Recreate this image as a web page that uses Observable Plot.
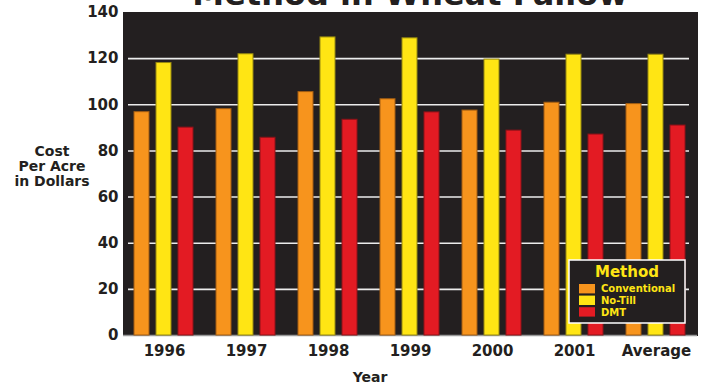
<!DOCTYPE html>
<html>
<head>
<meta charset="utf-8">
<script src="https://cdn.jsdelivr.net/npm/d3@7"></script>
<script src="https://cdn.jsdelivr.net/npm/@observablehq/plot@0.6"></script>
<style>
  html, body { margin: 0; padding: 0; background: #fff; overflow: hidden; }
  #chart { position: relative; width: 704px; height: 387px; }
</style>
</head>
<body>
<div id="chart"></div>
<script>
// Cost per acre (dollars) by tillage method, wheat-fallow
const years = ["1996", "1997", "1998", "1999", "2000", "2001", "Average"];
const methods = ["Conventional", "No-Till", "DMT"];
const conventional = [96.8, 98.1, 105.5, 102.4, 97.5, 100.9, 100.3];
const noTill = [118.1, 121.9, 129.2, 128.8, 119.6, 121.7, 121.7];
const dmt = [90.1, 85.7, 93.5, 96.7, 88.8, 87.1, 91.0];
const yTicks = [0, 20, 40, 60, 80, 100, 120, 140];
const gridTicks = [20, 40, 60, 80, 100, 120];

const methodColors = ["#F7941D", "#FFE514", "#E31B23"];
const methodEdges = ["#a35d12", "#978a10", "#8e1218"];
const bg = "#231F20";
const ink = "#231F20";

const series = [conventional, noTill, dmt];
const rows = years.flatMap((year, i) =>
  methods.map((method, m) => ({year, method, value: series[m][i]}))
);

// horizontal grid rows, one set per year panel
const gridRows = years.flatMap(year => gridTicks.map(value => ({year, value})));
const first = years[0], last = years[years.length - 1];
const gridStyle = {fx: "year", y: "value", stroke: "#ececec", strokeWidth: 1.6};

const plot = Plot.plot({
  width: 704,
  height: 387,
  marginLeft: 121,
  marginRight: 6,
  marginTop: 12,
  marginBottom: 52,
  style: {
    fontFamily: "'DejaVu Sans', sans-serif",
    fontWeight: "bold",
    fontSize: "15px",
    color: ink,
    background: "#fff"
  },
  fx: {domain: years, padding: 0, axis: "bottom", label: null, tickSize: 0, tickPadding: 10},
  x: {domain: methods, axis: null, paddingInner: 0.3, paddingOuter: 0.45},
  y: {domain: [0, 140], ticks: yTicks, tickSize: 0, tickPadding: 5, label: null},
  marks: [
    Plot.frame({fill: bg, stroke: bg}),
    Plot.ruleY(gridRows.filter(d => d.year === first), {...gridStyle, insetLeft: 5}),
    Plot.ruleY(gridRows.filter(d => d.year !== first && d.year !== last), gridStyle),
    Plot.ruleY(gridRows.filter(d => d.year === last), {...gridStyle, insetRight: 8}),
    Plot.ruleY([0], {stroke: "#9a9a9a", strokeWidth: 1.5}),
    ...methods.map((method, m) =>
      Plot.barY(rows.filter(d => d.method === method), {
        fx: "year",
        x: "method",
        y: "value",
        fill: methodColors[m],
        stroke: methodEdges[m],
        strokeWidth: 1
      })
    )
  ]
});

document.getElementById("chart").appendChild(plot);

const svg = d3.select(plot);
const font = "'DejaVu Sans', sans-serif";

// Title (runs off the top edge)
svg.append("text")
  .attr("x", 410).attr("y", 4.5)
  .attr("text-anchor", "middle")
  .attr("font-family", font).attr("font-weight", "bold").attr("font-size", 32)
  .attr("fill", ink)
  .text("Method in Wheat Fallow");

// Y axis title, three lines
const yTitle = svg.append("text")
  .attr("text-anchor", "middle")
  .attr("font-family", font).attr("font-weight", "bold").attr("font-size", 14)
  .attr("fill", ink);
["Cost", "Per Acre", "in Dollars"].forEach((line, i) => {
  yTitle.append("tspan").attr("x", 52).attr("y", 156 + i * 15).text(line);
});

// X axis title
svg.append("text")
  .attr("x", 370).attr("y", 382)
  .attr("text-anchor", "middle")
  .attr("font-family", font).attr("font-weight", "bold").attr("font-size", 14)
  .attr("fill", ink)
  .text("Year");

// Legend box
const lg = svg.append("g").attr("transform", "translate(569,260)");
lg.append("rect")
  .attr("width", 116).attr("height", 63)
  .attr("fill", bg).attr("stroke", "#fff").attr("stroke-width", 1.5);
lg.append("text")
  .attr("x", 58).attr("y", 16.5)
  .attr("text-anchor", "middle")
  .attr("font-family", font).attr("font-weight", "bold").attr("font-size", 15)
  .attr("fill", methodColors[1])
  .text("Method");
methods.forEach((method, m) => {
  lg.append("rect")
    .attr("x", 10).attr("y", 24 + m * 11.6)
    .attr("width", 16).attr("height", 9.4)
    .attr("fill", methodColors[m]);
  lg.append("text")
    .attr("x", 32).attr("y", 32.3 + m * 11.6)
    .attr("text-anchor", "start")
    .attr("font-family", font).attr("font-weight", "bold").attr("font-size", 10)
    .attr("fill", methodColors[1])
    .text(method);
});
</script>
</body>
</html>
